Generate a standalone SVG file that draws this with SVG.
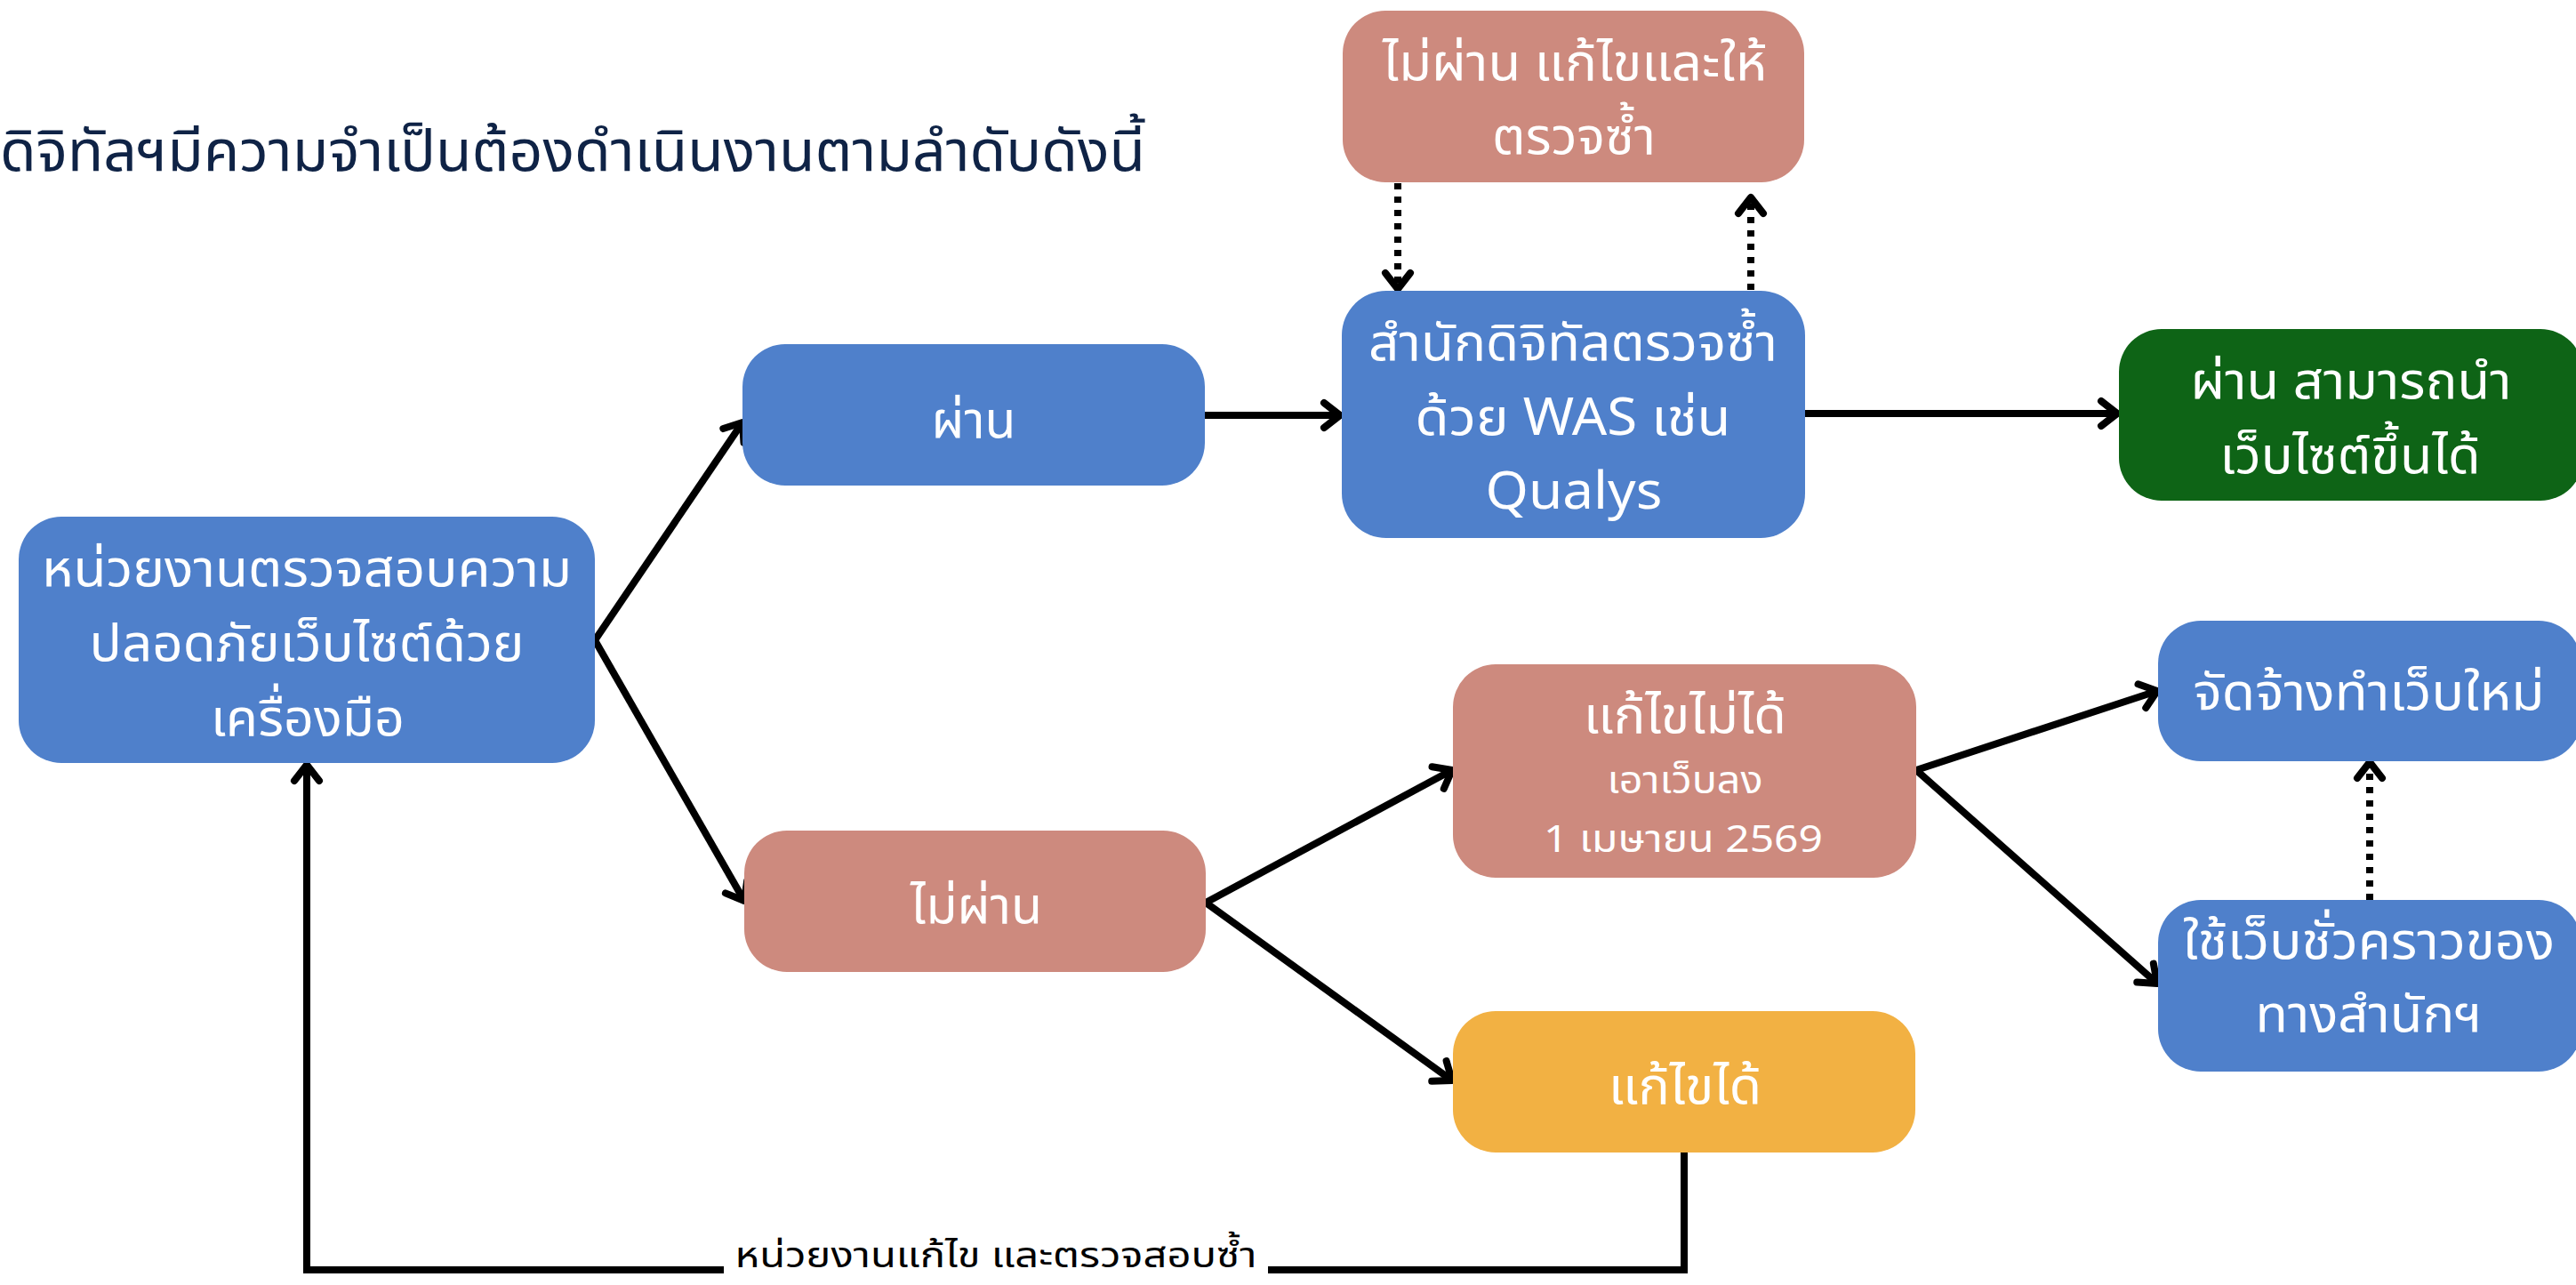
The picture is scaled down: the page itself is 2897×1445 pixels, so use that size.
<svg xmlns="http://www.w3.org/2000/svg" width="2897" height="1445" viewBox="0 0 2897 1445">
<style>
.t{font-family:'Noto Sans Thai','Noto Sans',sans-serif;fill:#fff;text-anchor:middle;font-size:58px}
.s{font-size:42px}
.blue{fill:#4f80cb}
.red{fill:#cd8a7e}
.green{fill:#0e6416}
.yellow{fill:#f2b143}
.c{fill:none;stroke:#000;stroke-width:8}
.d{stroke-dasharray:7 8}
.title{font-family:'Noto Sans Thai','Noto Sans',sans-serif;fill:#0f2346;font-size:64px}
.lbl{font-family:'Noto Sans Thai','Noto Sans',sans-serif;fill:#000;font-size:40px;text-anchor:middle}
</style>
<defs>
<marker id="ah" markerUnits="userSpaceOnUse" viewBox="-30 -20 40 40" markerWidth="40" markerHeight="40" refX="0" refY="0" orient="auto">
<path d="M-18,-14 L0,0 L-18,14" fill="none" stroke="#000" stroke-width="8" stroke-linecap="round" stroke-linejoin="round"/>
</marker>
</defs>
<rect width="2897" height="1445" fill="#fff"/>
<text class="title" x="0" y="192" textLength="1288" lengthAdjust="spacingAndGlyphs">ดิจิทัลฯมีความจำเป็นต้องดำเนินงานตามลำดับดังนี้</text>

<g id="connectors">
<line class="c" x1="669" y1="720" x2="835" y2="475" marker-end="url(#ah)"/>
<line class="c" x1="669" y1="720" x2="837" y2="1013" marker-end="url(#ah)"/>
<line class="c" x1="1355" y1="467" x2="1507" y2="467" marker-end="url(#ah)"/>
<line class="c" x1="2030" y1="465" x2="2381" y2="465" marker-end="url(#ah)"/>
<line class="c d" x1="1572" y1="206" x2="1572" y2="325" marker-end="url(#ah)"/>
<line class="c d" x1="1969" y1="326" x2="1969" y2="222" marker-end="url(#ah)"/>
<line class="c" x1="1356" y1="1015" x2="1633" y2="866" marker-end="url(#ah)"/>
<line class="c" x1="1356" y1="1015" x2="1633" y2="1215" marker-end="url(#ah)"/>
<line class="c" x1="2155" y1="866" x2="2426" y2="777" marker-end="url(#ah)"/>
<line class="c" x1="2155" y1="866" x2="2426" y2="1106" marker-end="url(#ah)"/>
<line class="c d" x1="2665" y1="1012" x2="2665" y2="857" marker-end="url(#ah)"/>
<path class="c" d="M1894,1296 V1428 H1426"/>
<path class="c" d="M814,1428 H345 V860" marker-end="url(#ah)"/>
<text class="lbl" x="1120" y="1425" textLength="587" lengthAdjust="spacingAndGlyphs">หน่วยงานแก้ไข และตรวจสอบซ้ำ</text>
</g>

<g id="node-check">
<rect class="blue" x="21" y="581" width="648" height="277" rx="48"/>
<text class="t" x="345" y="659" textLength="596" lengthAdjust="spacingAndGlyphs">หน่วยงานตรวจสอบความ</text>
<text class="t" x="345" y="743" textLength="489" lengthAdjust="spacingAndGlyphs">ปลอดภัยเว็บไซต์ด้วย</text>
<text class="t" x="346" y="827" textLength="218" lengthAdjust="spacingAndGlyphs">เครื่องมือ</text>
</g>

<g id="node-pass">
<rect class="blue" x="835" y="387" width="520" height="159" rx="48"/>
<text class="t" x="1095" y="492" textLength="95" lengthAdjust="spacingAndGlyphs">ผ่าน</text>
</g>

<g id="node-fail">
<rect class="red" x="837" y="934" width="519" height="159" rx="48"/>
<text class="t" x="1098" y="1038" textLength="148" lengthAdjust="spacingAndGlyphs">ไม่ผ่าน</text>
</g>

<g id="node-recheck">
<rect class="blue" x="1509" y="327" width="521" height="278" rx="50"/>
<text class="t" x="1769" y="405" textLength="460" lengthAdjust="spacingAndGlyphs">สำนักดิจิทัลตรวจซ้ำ</text>
<text class="t" x="1769" y="489" textLength="355" lengthAdjust="spacingAndGlyphs">ด้วย WAS เช่น</text>
<text class="t" x="1770" y="572" textLength="199" lengthAdjust="spacingAndGlyphs">Qualys</text>
</g>

<g id="node-fix-recheck">
<rect class="red" x="1510" y="12" width="519" height="193" rx="48"/>
<text class="t" x="1771" y="90" textLength="432" lengthAdjust="spacingAndGlyphs">ไม่ผ่าน แก้ไขและให้</text>
<text class="t" x="1770" y="173" textLength="184" lengthAdjust="spacingAndGlyphs">ตรวจซ้ำ</text>
</g>

<g id="node-online">
<rect class="green" x="2383" y="370" width="522" height="193" rx="48"/>
<text class="t" x="2644" y="448" textLength="361" lengthAdjust="spacingAndGlyphs">ผ่าน สามารถนำ</text>
<text class="t" x="2643" y="532" textLength="293" lengthAdjust="spacingAndGlyphs">เว็บไซต์ขึ้นได้</text>
</g>

<g id="node-cannot-fix">
<rect class="red" x="1634" y="747" width="521" height="240" rx="48"/>
<text class="t" x="1895" y="824" textLength="228" lengthAdjust="spacingAndGlyphs">แก้ไขไม่ได้</text>
<text class="t s" x="1895" y="892" textLength="175" lengthAdjust="spacingAndGlyphs">เอาเว็บลง</text>
<text class="t s" x="1893" y="958" textLength="314" lengthAdjust="spacingAndGlyphs">1 เมษายน 2569</text>
</g>

<g id="node-can-fix">
<rect class="yellow" x="1634" y="1137" width="520" height="159" rx="48"/>
<text class="t" x="1895" y="1241" textLength="172" lengthAdjust="spacingAndGlyphs">แก้ไขได้</text>
</g>

<g id="node-new-web">
<rect class="blue" x="2427" y="698" width="476" height="158" rx="48"/>
<text class="t" x="2664" y="798" textLength="395" lengthAdjust="spacingAndGlyphs">จัดจ้างทำเว็บใหม่</text>
</g>

<g id="node-temp-web">
<rect class="blue" x="2427" y="1012" width="476" height="193" rx="48"/>
<text class="t" x="2664" y="1078" textLength="418" lengthAdjust="spacingAndGlyphs">ใช้เว็บชั่วคราวของ</text>
<text class="t" x="2664" y="1160" textLength="255" lengthAdjust="spacingAndGlyphs">ทางสำนักฯ</text>
</g>
</svg>
